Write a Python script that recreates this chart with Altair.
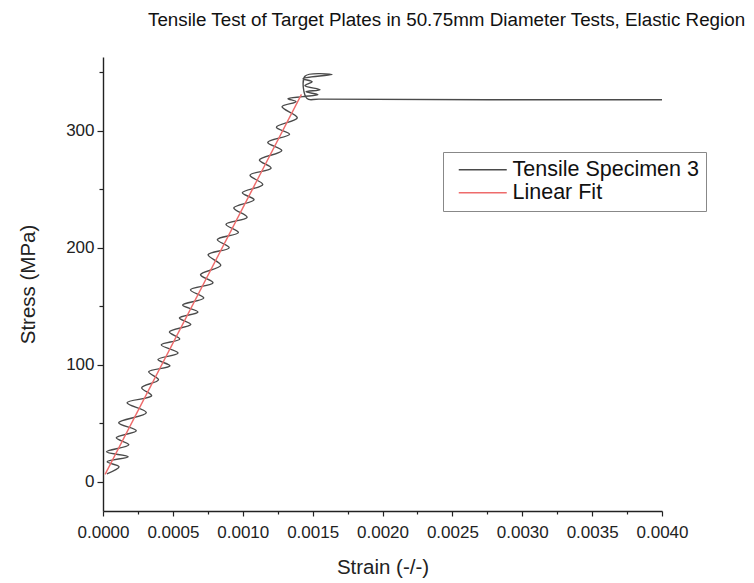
import altair as alt
import pandas as pd

# Measured curve: Tensile Specimen 3 (strain, stress MPa), in drawing order
spec_strain = [0.000028, 0.000115, 0.000030, 0.000180, 0.000025, 0.000185, 0.000095, 0.000238,
               0.000112, 0.000310, 0.000172, 0.000348, 0.000277, 0.000397, 0.000327, 0.000479,
               0.000393, 0.000537, 0.000417, 0.000549, 0.000475, 0.000628, 0.000547, 0.000679,
               0.000570, 0.000721, 0.000626, 0.000787, 0.000698, 0.000843, 0.000752, 0.000903,
               0.000818, 0.000969, 0.000880, 0.001031, 0.000936, 0.001081, 0.000997, 0.001143,
               0.001052, 0.001203, 0.001119, 0.001279, 0.001179, 0.001335, 0.001241, 0.001390,
               0.001281, 0.001381, 0.001324, 0.001431, 0.001538, 0.001453, 0.001553, 0.001445,
               0.001496, 0.001431, 0.001639, 0.001445, 0.001460, 0.001550, 0.004000]
spec_stress = [6.8, 12.8, 17.1, 21.4, 25.6, 31.6, 37.6, 43.6,
               50.4, 59.0, 67.5, 73.5, 80.3, 87.2, 94.0, 99.0,
               104.5, 110.0, 117.0, 122.0, 128.0, 134.5, 140.0, 145.0,
               151.0, 157.0, 164.0, 170.0, 177.0, 185.0, 194.0, 200.0,
               207.0, 213.0, 220.0, 226.0, 234.0, 241.0, 247.0, 254.0,
               262.0, 268.0, 275.0, 283.0, 290.0, 297.0, 303.0, 311.0,
               320.5, 324.8, 327.4, 329.1, 330.8, 333.3, 335.0, 338.5,
               341.9, 344.4, 347.9, 346.5, 327.5, 327.0, 326.5]

# Linear fit end points
fit_strain = [0.000015, 0.001420]
fit_stress = [6.3, 331.0]

series_names = ["Tensile Specimen 3", "Linear Fit"]
series_colors = ["#4a4a4a", "#ee6b6b"]

x_ticks = [0.0, 0.00025, 0.0005, 0.00075, 0.0010, 0.00125, 0.0015, 0.00175, 0.0020,
           0.00225, 0.0025, 0.00275, 0.0030, 0.00325, 0.0035, 0.00375, 0.0040]
y_ticks = [0, 50, 100, 150, 200, 250, 300, 350]

rows = []
for i, (sx, sy) in enumerate(zip(spec_strain, spec_stress)):
    rows.append({"strain": sx, "stress": sy, "series": series_names[0], "idx": i})
for i, (sx, sy) in enumerate(zip(fit_strain, fit_stress)):
    rows.append({"strain": sx, "stress": sy, "series": series_names[1], "idx": i})
df = pd.DataFrame(rows)

FONT = "Liberation Sans"
x_major_test = "abs(datum.value*2000 - round(datum.value*2000)) < 0.001"
y_major_test = "datum.value % 100 === 0"

chart = alt.Chart(df).mark_line(strokeWidth=1.4, interpolate="catmull-rom").encode(
    x=alt.X("strain:Q", scale=alt.Scale(domain=[0, 0.004], nice=False, zero=False),
            axis=alt.Axis(values=x_ticks, title="Strain (-/-)",
                          labelExpr=f"{x_major_test} ? format(datum.value, '.4f') : ''",
                          tickSize={"condition": {"test": x_major_test, "value": 5}, "value": 3},
                          labelFlush=False, labelOverlap=False,
                          labelPadding=8, titlePadding=17)),
    y=alt.Y("stress:Q", scale=alt.Scale(domain=[-25, 363], nice=False, zero=False),
            axis=alt.Axis(values=y_ticks, title="Stress (MPa)",
                          labelExpr=f"{y_major_test} ? format(datum.value, 'd') : ''",
                          tickSize={"condition": {"test": y_major_test, "value": 6}, "value": 4},
                          labelFlush=False, labelOverlap=False,
                          labelPadding=3, titlePadding=27)),
    color=alt.Color("series:N",
                    scale=alt.Scale(domain=series_names, range=series_colors),
                    legend=alt.Legend(title=None, orient="none", legendX=340, legendY=95,
                                      symbolType="M-4,0L4,0", symbolSize=144,
                                      symbolStrokeWidth=1.4, symbolOffset=22,
                                      labelFontSize=21.5, labelFont=FONT, labelColor="#111",
                                      strokeColor="#888", padding=7, rowPadding=0,
                                      labelOffset=19, labelLimit=400)),
    order="idx:Q",
).properties(
    width=559, height=454,
    padding={"left": 103, "top": 57, "right": 92, "bottom": 72},
    autosize=alt.AutoSizeParams(type="none"),
    title=alt.Title("Tensile Test of Target Plates in 50.75mm Diameter Tests, Elastic Region",
                    anchor="start", frame="group", dx=45, offset=27, fontSize=18.8,
                    fontWeight="normal", font=FONT, color="#111"),
).configure_view(stroke=None).configure_axis(
    grid=False, domainColor="#222", tickColor="#222", domainWidth=1.4, tickWidth=1.2,
    labelFont=FONT, labelFontSize=17, labelColor="#222",
    titleFont=FONT, titleFontSize=20.5, titleFontWeight="normal", titleColor="#222",
)

chart.save("out.html", embed_options={"renderer": "svg", "actions": False})
